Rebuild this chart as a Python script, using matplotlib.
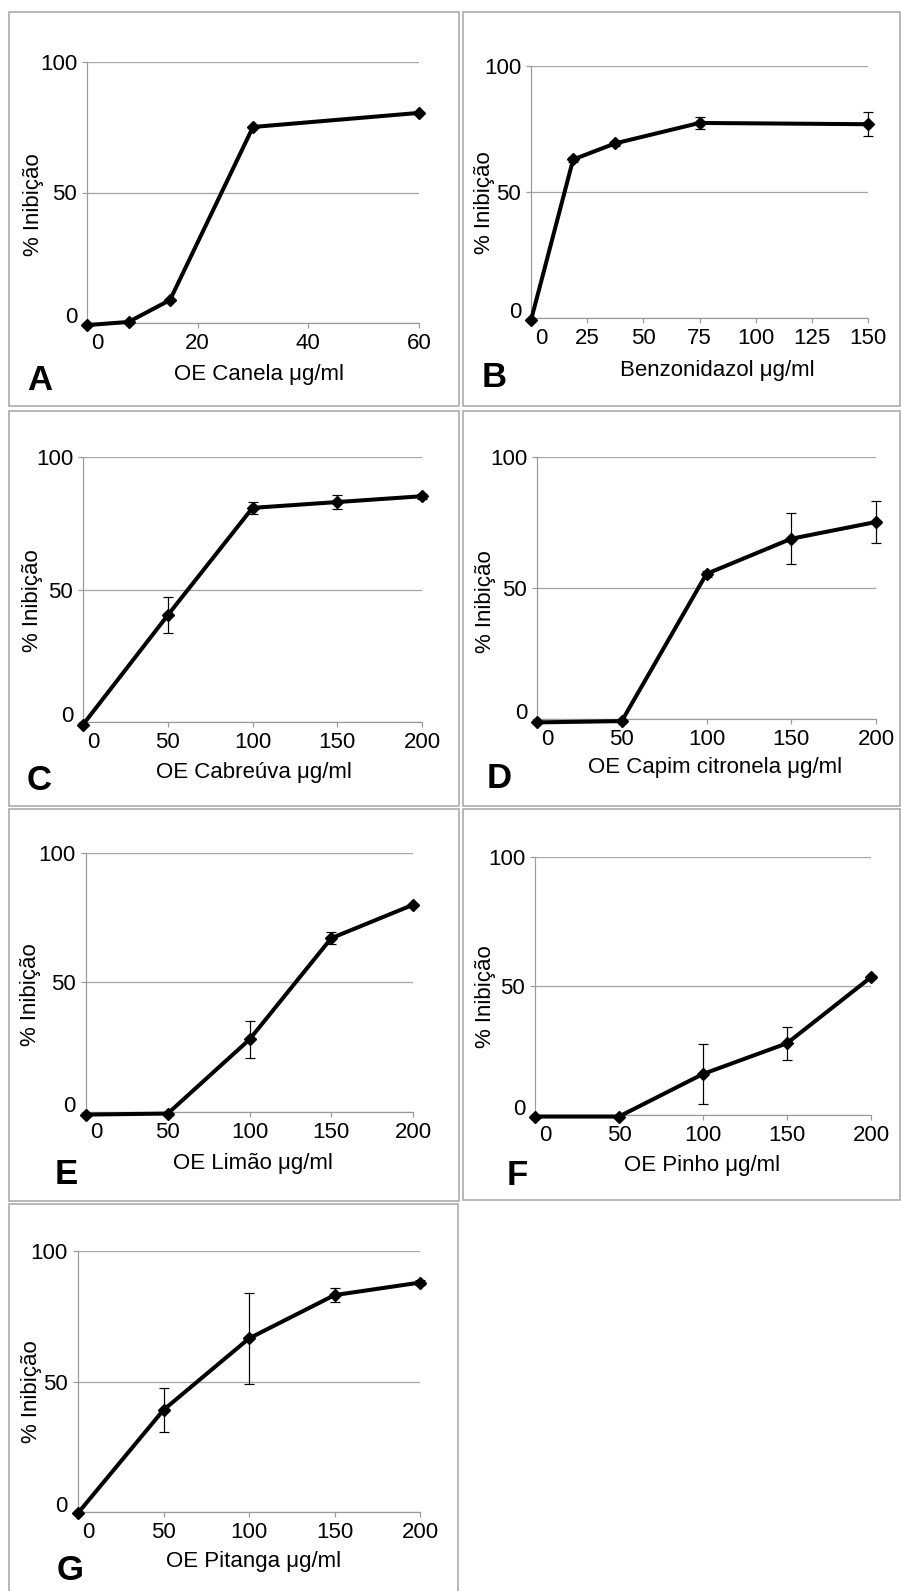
import matplotlib
matplotlib.use("Agg")
import matplotlib.pyplot as plt
from matplotlib.patches import Rectangle

plt.rcParams['font.family'] = ['Liberation Sans', 'DejaVu Sans']

W, H = 901, 1591
DPI = 100

# ---------------- data ----------------
letters = ["A", "B", "C", "D", "E", "F", "G"]
xlabels = ["OE Canela μg/ml", "Benzonidazol μg/ml", "OE Cabreúva μg/ml",
           "OE Capim citronela μg/ml", "OE Limão μg/ml", "OE Pinho μg/ml",
           "OE Pitanga μg/ml"]

x_A = [0, 7.5, 15, 30, 60]
y_A = [-0.8, 0.4, 8.8, 75.1, 80.5]
e_A = [0, 0, 0, 0, 0]

x_B = [0, 18.75, 37.5, 75, 150]
y_B = [-0.9, 62.9, 69.3, 77.4, 76.9]
e_B = [0, 1.0, 1.0, 2.3, 4.8]

x_C = [0, 50, 100, 150, 200]
y_C = [-1.0, 40.3, 80.8, 83.0, 85.2]
e_C = [0, 6.9, 2.2, 2.6, 1.0]

x_D = [0, 50, 100, 150, 200]
y_D = [-1.3, -0.8, 55.4, 68.8, 75.2]
e_D = [0, 0, 1.2, 9.75, 8.0]

x_E = [0, 50, 100, 150, 200]
y_E = [-1.0, -0.6, 28.0, 67.1, 80.0]
e_E = [0, 0, 7.2, 2.4, 0.5]

x_F = [0, 50, 100, 150, 200]
y_F = [-0.6, -0.6, 15.9, 27.8, 53.4]
e_F = [0, 0, 11.6, 6.3, 0.5]

x_G = [0, 50, 100, 150, 200]
y_G = [-0.4, 39.1, 66.5, 83.1, 87.9]
e_G = [0, 8.5, 17.4, 2.7, 1.0]

xticks_A = [0, 20, 40, 60]
xticks_B = [0, 25, 50, 75, 100, 125, 150]
xticks_std = [0, 50, 100, 150, 200]
yticks = [0, 50, 100]

series = [(x_A, y_A, e_A, xticks_A), (x_B, y_B, e_B, xticks_B),
          (x_C, y_C, e_C, xticks_std), (x_D, y_D, e_D, xticks_std),
          (x_E, y_E, e_E, xticks_std), (x_F, y_F, e_F, xticks_std),
          (x_G, y_G, e_G, xticks_std)]

# ---------------- layout (pixels) ----------------
axes_px = [(87, 419, 62, 323), (531, 868, 66, 318),
           (83, 422, 457, 722), (537, 876, 457, 719),
           (86, 413, 853, 1112), (535, 871, 857, 1115),
           (78, 420, 1251, 1512)]
boxes_px = [(9, 12, 459, 406), (463, 12, 900, 406),
            (9, 411, 459, 806), (463, 411, 900, 806),
            (9, 809, 459, 1201), (463, 809, 900, 1200),
            (9, 1204, 458, 1600)]
xlab_px = [(259, 380), (717, 376), (254, 778), (715, 773),
           (253, 1169), (702, 1171), (254, 1567)]
ylab_px = [(39, 205), (490, 203), (38, 601), (491, 602),
           (36, 995), (491, 997), (37, 1392)]
let_px = [(27, 390), (482, 387), (27, 790), (487, 788),
          (55, 1184), (507, 1185), (57, 1580)]

fig = plt.figure(figsize=(W / DPI, H / DPI), dpi=DPI)
fig.patch.set_facecolor('white')

def fx(x):
    return x / W

def fy(y):
    return 1 - y / H

PT = 72.0 / DPI
GRID = '#a6a6a6'
AXC = '#9a9a9a'
FS = 16
TXT = '#000000'

for (l, t, r, b) in boxes_px:
    fig.add_artist(Rectangle((fx(l), fy(b)), fx(r) - fx(l), fy(t) - fy(b),
                             transform=fig.transFigure, fill=False,
                             edgecolor='#a8a8a8', linewidth=1.6 * PT))

for i, ((xs, ys, es, xt), (x0, x1, yt, yb)) in enumerate(zip(series, axes_px)):
    ax = fig.add_axes([fx(x0), fy(yb), fx(x1) - fx(x0), fy(yt) - fy(yb)])
    ax.set_xlim(xt[0], xt[-1])
    ax.set_ylim(0, 100)
    ax.set_facecolor('none')
    for s in ['top', 'right']:
        ax.spines[s].set_visible(False)
    for s in ['left', 'bottom']:
        ax.spines[s].set_color(AXC)
        ax.spines[s].set_linewidth(1.2 * PT)
    ax.set_yticks(yticks)
    ax.set_yticklabels([''] + [str(v) for v in yticks[1:]])
    ax.set_xticks(xt)
    ax.set_xticklabels([''] + [str(v) for v in xt[1:]])
    ax.tick_params(axis='both', direction='out', length=5 * PT, width=1.2 * PT,
                   color=AXC, pad=5 * PT, labelsize=FS, labelcolor=TXT)
    ax.yaxis.grid(True, color=GRID, linewidth=1.3 * PT)
    ax.set_axisbelow(True)
    ax.annotate('0', xy=(0, 0), xycoords=('data', 'axes fraction'),
                xytext=(10 * PT, -10 * PT), textcoords='offset points',
                ha='center', va='top', fontsize=FS, color=TXT,
                annotation_clip=False)
    ax.annotate('0', xy=(0, 0), xycoords=('axes fraction', 'data'),
                xytext=(-10 * PT, 8 * PT), textcoords='offset points',
                ha='right', va='center_baseline', fontsize=FS, color=TXT,
                annotation_clip=False)

    ax.errorbar(xs, ys, yerr=es, fmt='none', ecolor='black',
                elinewidth=1.2 * PT, capsize=3.6, capthick=1.2 * PT,
                clip_on=False, zorder=3)
    ax.plot(xs, ys, color='black', linewidth=2.9, marker='D', markersize=6.5,
            markerfacecolor='black', markeredgecolor='black',
            clip_on=False, zorder=4, solid_joinstyle='round')

    bx, by = xlab_px[i]
    fig.text(fx(bx), fy(by), xlabels[i], ha='center', va='baseline',
             fontsize=FS, color=TXT)
    lx, ly = ylab_px[i]
    fig.text(fx(lx), fy(ly), '% Inibição', ha='center', va='baseline',
             rotation=90, rotation_mode='anchor', fontsize=FS, color=TXT)
    tx, ty = let_px[i]
    fig.text(fx(tx), fy(ty), letters[i], ha='left', va='baseline',
             fontsize=25, fontweight='bold', color='black')

fig.savefig('out.png', dpi=DPI, facecolor='white')
